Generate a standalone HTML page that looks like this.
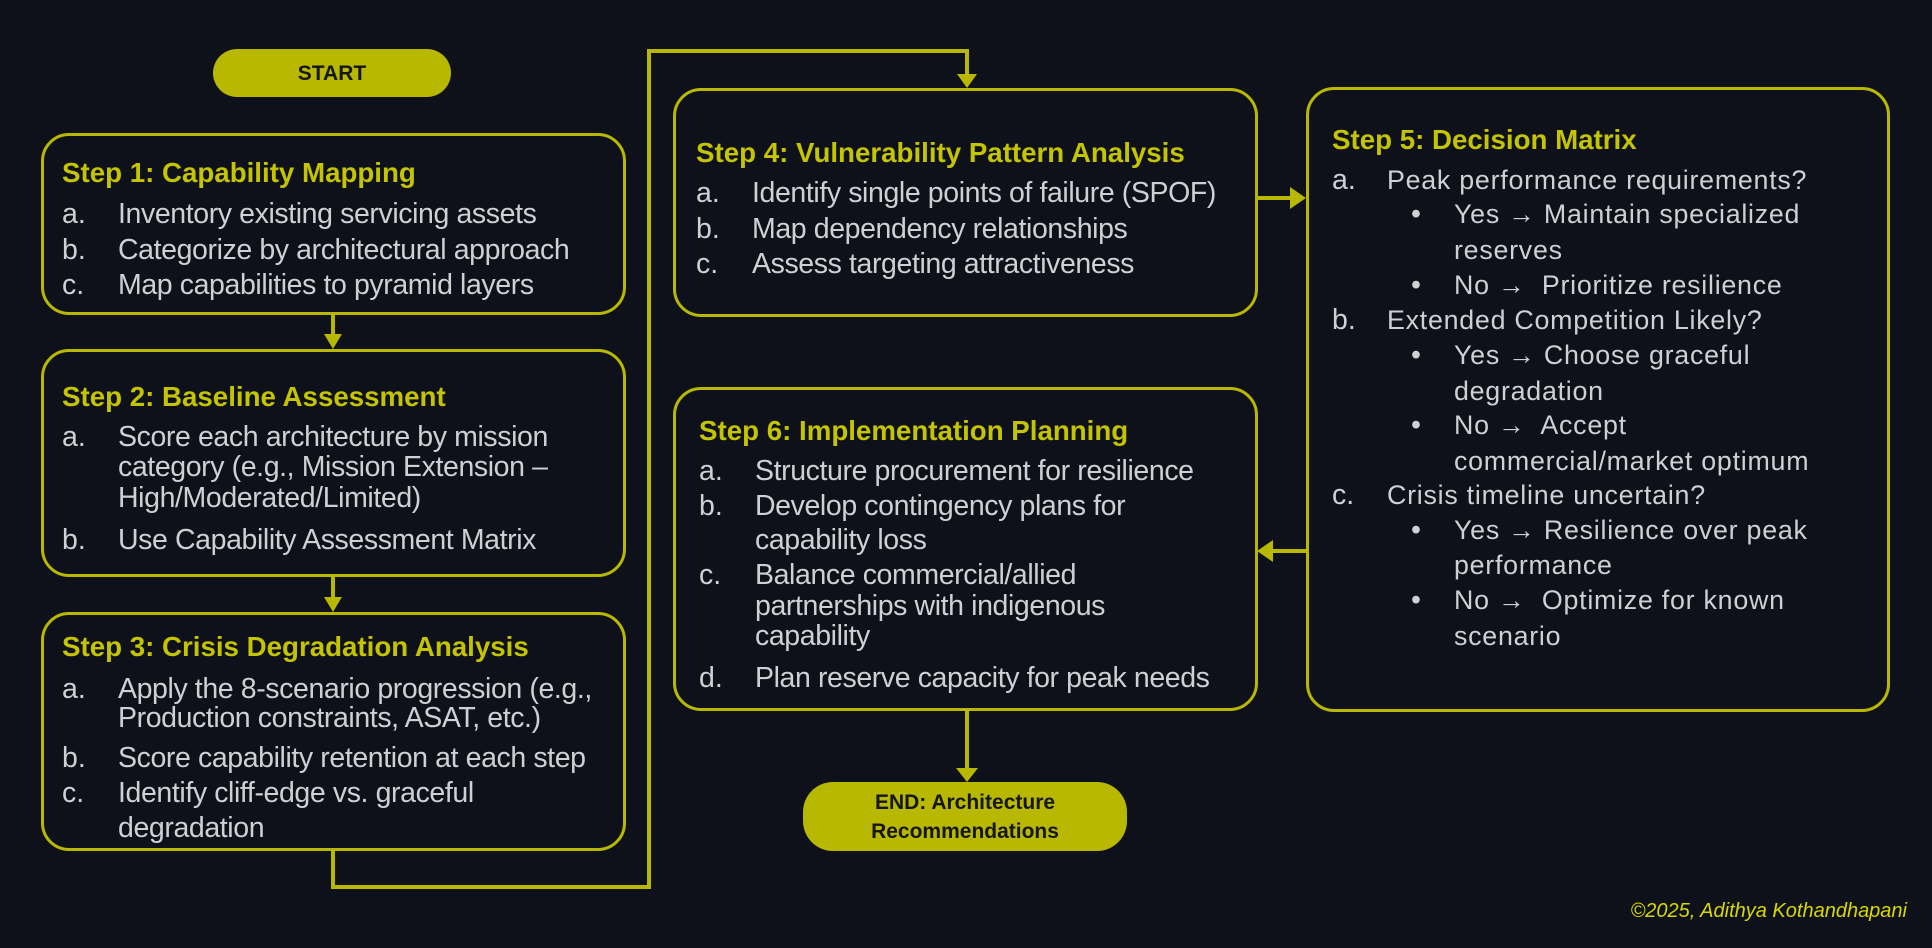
<!DOCTYPE html>
<html><head><meta charset="utf-8"><style>
*{margin:0;padding:0;box-sizing:border-box}
body{width:1932px;height:948px;background:#0e1119;position:relative;overflow:hidden;font-family:"Liberation Sans",sans-serif}
.box{position:absolute;border:3px solid #b8b800;border-radius:28px}
.pill{position:absolute;background:#b8b800;border-radius:30px;color:#15161a;font-weight:bold;text-align:center;display:flex;align-items:center;justify-content:center;font-size:21px;line-height:29px}
.t{position:absolute;white-space:nowrap;line-height:34px;height:34px}
.h{color:#c4c400;font-weight:bold;font-size:27.7px}
.b{color:#cfd0d4;font-size:28.5px}
.n{letter-spacing:-0.4px}
.w{font-size:26.8px;letter-spacing:0.75px}
</style></head><body>
<svg width="1932" height="948" style="position:absolute;left:0;top:0">
<g stroke="#b8b800" stroke-width="4" fill="none">
<path d="M333 314 V337"/><path d="M333 577 V600"/>
<path d="M333 851 V887 H649 V51 H967 V76"/>
<path d="M1257 198 H1292"/>
<path d="M1306 551 H1271"/>
<path d="M967 711 V770"/>
</g>
<g fill="#b8b800">
<path d="M324 334 L342 334 L333 349Z"/>
<path d="M324 597 L342 597 L333 612Z"/>
<path d="M957 74 L977 74 L967 88Z"/>
<path d="M1290 187 L1290 209 L1306 198Z"/>
<path d="M1273 540 L1273 562 L1257 551Z"/>
<path d="M956 768 L978 768 L967 782Z"/>
</g>
</svg>
<div class="pill" style="left:213px;top:49px;width:238px;height:48px">START</div>
<div class="pill" style="left:803px;top:782px;width:324px;height:69px">END: Architecture<br>Recommendations</div>

<div class="box" style="left:41px;top:133px;width:585px;height:182px"></div>
<div class="box" style="left:41px;top:349px;width:585px;height:228px"></div>
<div class="box" style="left:41px;top:612px;width:585px;height:239px"></div>
<div class="box" style="left:673px;top:88px;width:585px;height:229px"></div>
<div class="box" style="left:673px;top:387px;width:585px;height:324px"></div>
<div class="box" style="left:1306px;top:87px;width:584px;height:625px"></div>

<!-- Step 1 -->
<div class="t h" style="left:62px;top:156px">Step 1: Capability Mapping</div>
<div class="t b" style="left:62px;top:197px">a.</div><div class="t b n" style="left:118px;top:197px">Inventory existing servicing assets</div>
<div class="t b" style="left:62px;top:233px">b.</div><div class="t b n" style="left:118px;top:233px">Categorize by architectural approach</div>
<div class="t b" style="left:62px;top:268px">c.</div><div class="t b n" style="left:118px;top:268px">Map capabilities to pyramid layers</div>
<!-- Step 2 -->
<div class="t h" style="left:62px;top:380px">Step 2: Baseline Assessment</div>
<div class="t b" style="left:62px;top:420px">a.</div><div class="t b n" style="left:118px;top:420px">Score each architecture by mission</div>
<div class="t b n" style="left:118px;top:450px">category (e.g., Mission Extension –</div>
<div class="t b n" style="left:118px;top:481px">High/Moderated/Limited)</div>
<div class="t b" style="left:62px;top:523px">b.</div><div class="t b n" style="left:118px;top:523px">Use Capability Assessment Matrix</div>
<!-- Step 3 -->
<div class="t h" style="left:62px;top:630px">Step 3: Crisis Degradation Analysis</div>
<div class="t b" style="left:62px;top:672px">a.</div><div class="t b n" style="left:118px;top:672px">Apply the 8-scenario progression (e.g.,</div>
<div class="t b n" style="left:118px;top:701px">Production constraints, ASAT, etc.)</div>
<div class="t b" style="left:62px;top:741px">b.</div><div class="t b n" style="left:118px;top:741px">Score capability retention at each step</div>
<div class="t b" style="left:62px;top:776px">c.</div><div class="t b n" style="left:118px;top:776px">Identify cliff-edge vs. graceful</div>
<div class="t b n" style="left:118px;top:811px">degradation</div>
<!-- Step 4 -->
<div class="t h" style="left:696px;top:136px">Step 4: Vulnerability Pattern Analysis</div>
<div class="t b" style="left:696px;top:176px">a.</div><div class="t b n" style="left:752px;top:176px">Identify single points of failure (SPOF)</div>
<div class="t b" style="left:696px;top:212px">b.</div><div class="t b n" style="left:752px;top:212px">Map dependency relationships</div>
<div class="t b" style="left:696px;top:247px">c.</div><div class="t b n" style="left:752px;top:247px">Assess targeting attractiveness</div>
<!-- Step 6 -->
<div class="t h" style="left:699px;top:414px">Step 6: Implementation Planning</div>
<div class="t b" style="left:699px;top:454px">a.</div><div class="t b n" style="left:755px;top:454px">Structure procurement for resilience</div>
<div class="t b" style="left:699px;top:489px">b.</div><div class="t b n" style="left:755px;top:489px">Develop contingency plans for</div>
<div class="t b n" style="left:755px;top:523px">capability loss</div>
<div class="t b" style="left:699px;top:558px">c.</div><div class="t b n" style="left:755px;top:558px">Balance commercial/allied</div>
<div class="t b n" style="left:755px;top:589px">partnerships with indigenous</div>
<div class="t b n" style="left:755px;top:619px">capability</div>
<div class="t b" style="left:699px;top:661px">d.</div><div class="t b n" style="left:755px;top:661px">Plan reserve capacity for peak needs</div>
<!-- Step 5 -->
<div class="t h" style="left:1332px;top:123px">Step 5: Decision Matrix</div>
<div class="t b" style="left:1332px;top:163px">a.</div><div class="t b w" style="left:1387px;top:163px">Peak performance requirements?</div>
<div class="t b" style="left:1411px;top:197px">•</div><div class="t b w" style="left:1454px;top:197px">Yes → Maintain specialized</div>
<div class="t b w" style="left:1454px;top:233px">reserves</div>
<div class="t b" style="left:1411px;top:268px">•</div><div class="t b w" style="left:1454px;top:268px">No →&nbsp; Prioritize resilience</div>
<div class="t b" style="left:1332px;top:303px">b.</div><div class="t b w" style="left:1387px;top:303px">Extended Competition Likely?</div>
<div class="t b" style="left:1411px;top:338px">•</div><div class="t b w" style="left:1454px;top:338px">Yes → Choose graceful</div>
<div class="t b w" style="left:1454px;top:374px">degradation</div>
<div class="t b" style="left:1411px;top:408px">•</div><div class="t b w" style="left:1454px;top:408px">No →&nbsp; Accept</div>
<div class="t b w" style="left:1454px;top:444px">commercial/market optimum</div>
<div class="t b" style="left:1332px;top:478px">c.</div><div class="t b w" style="left:1387px;top:478px">Crisis timeline uncertain?</div>
<div class="t b" style="left:1411px;top:513px">•</div><div class="t b w" style="left:1454px;top:513px">Yes → Resilience over peak</div>
<div class="t b w" style="left:1454px;top:548px">performance</div>
<div class="t b" style="left:1411px;top:583px">•</div><div class="t b w" style="left:1454px;top:583px">No →&nbsp; Optimize for known</div>
<div class="t b w" style="left:1454px;top:619px">scenario</div>

<div style="position:absolute;right:25px;top:900px;color:#d8d800;font-style:italic;font-size:20px">©2025, Adithya Kothandhapani</div>
</body></html>
